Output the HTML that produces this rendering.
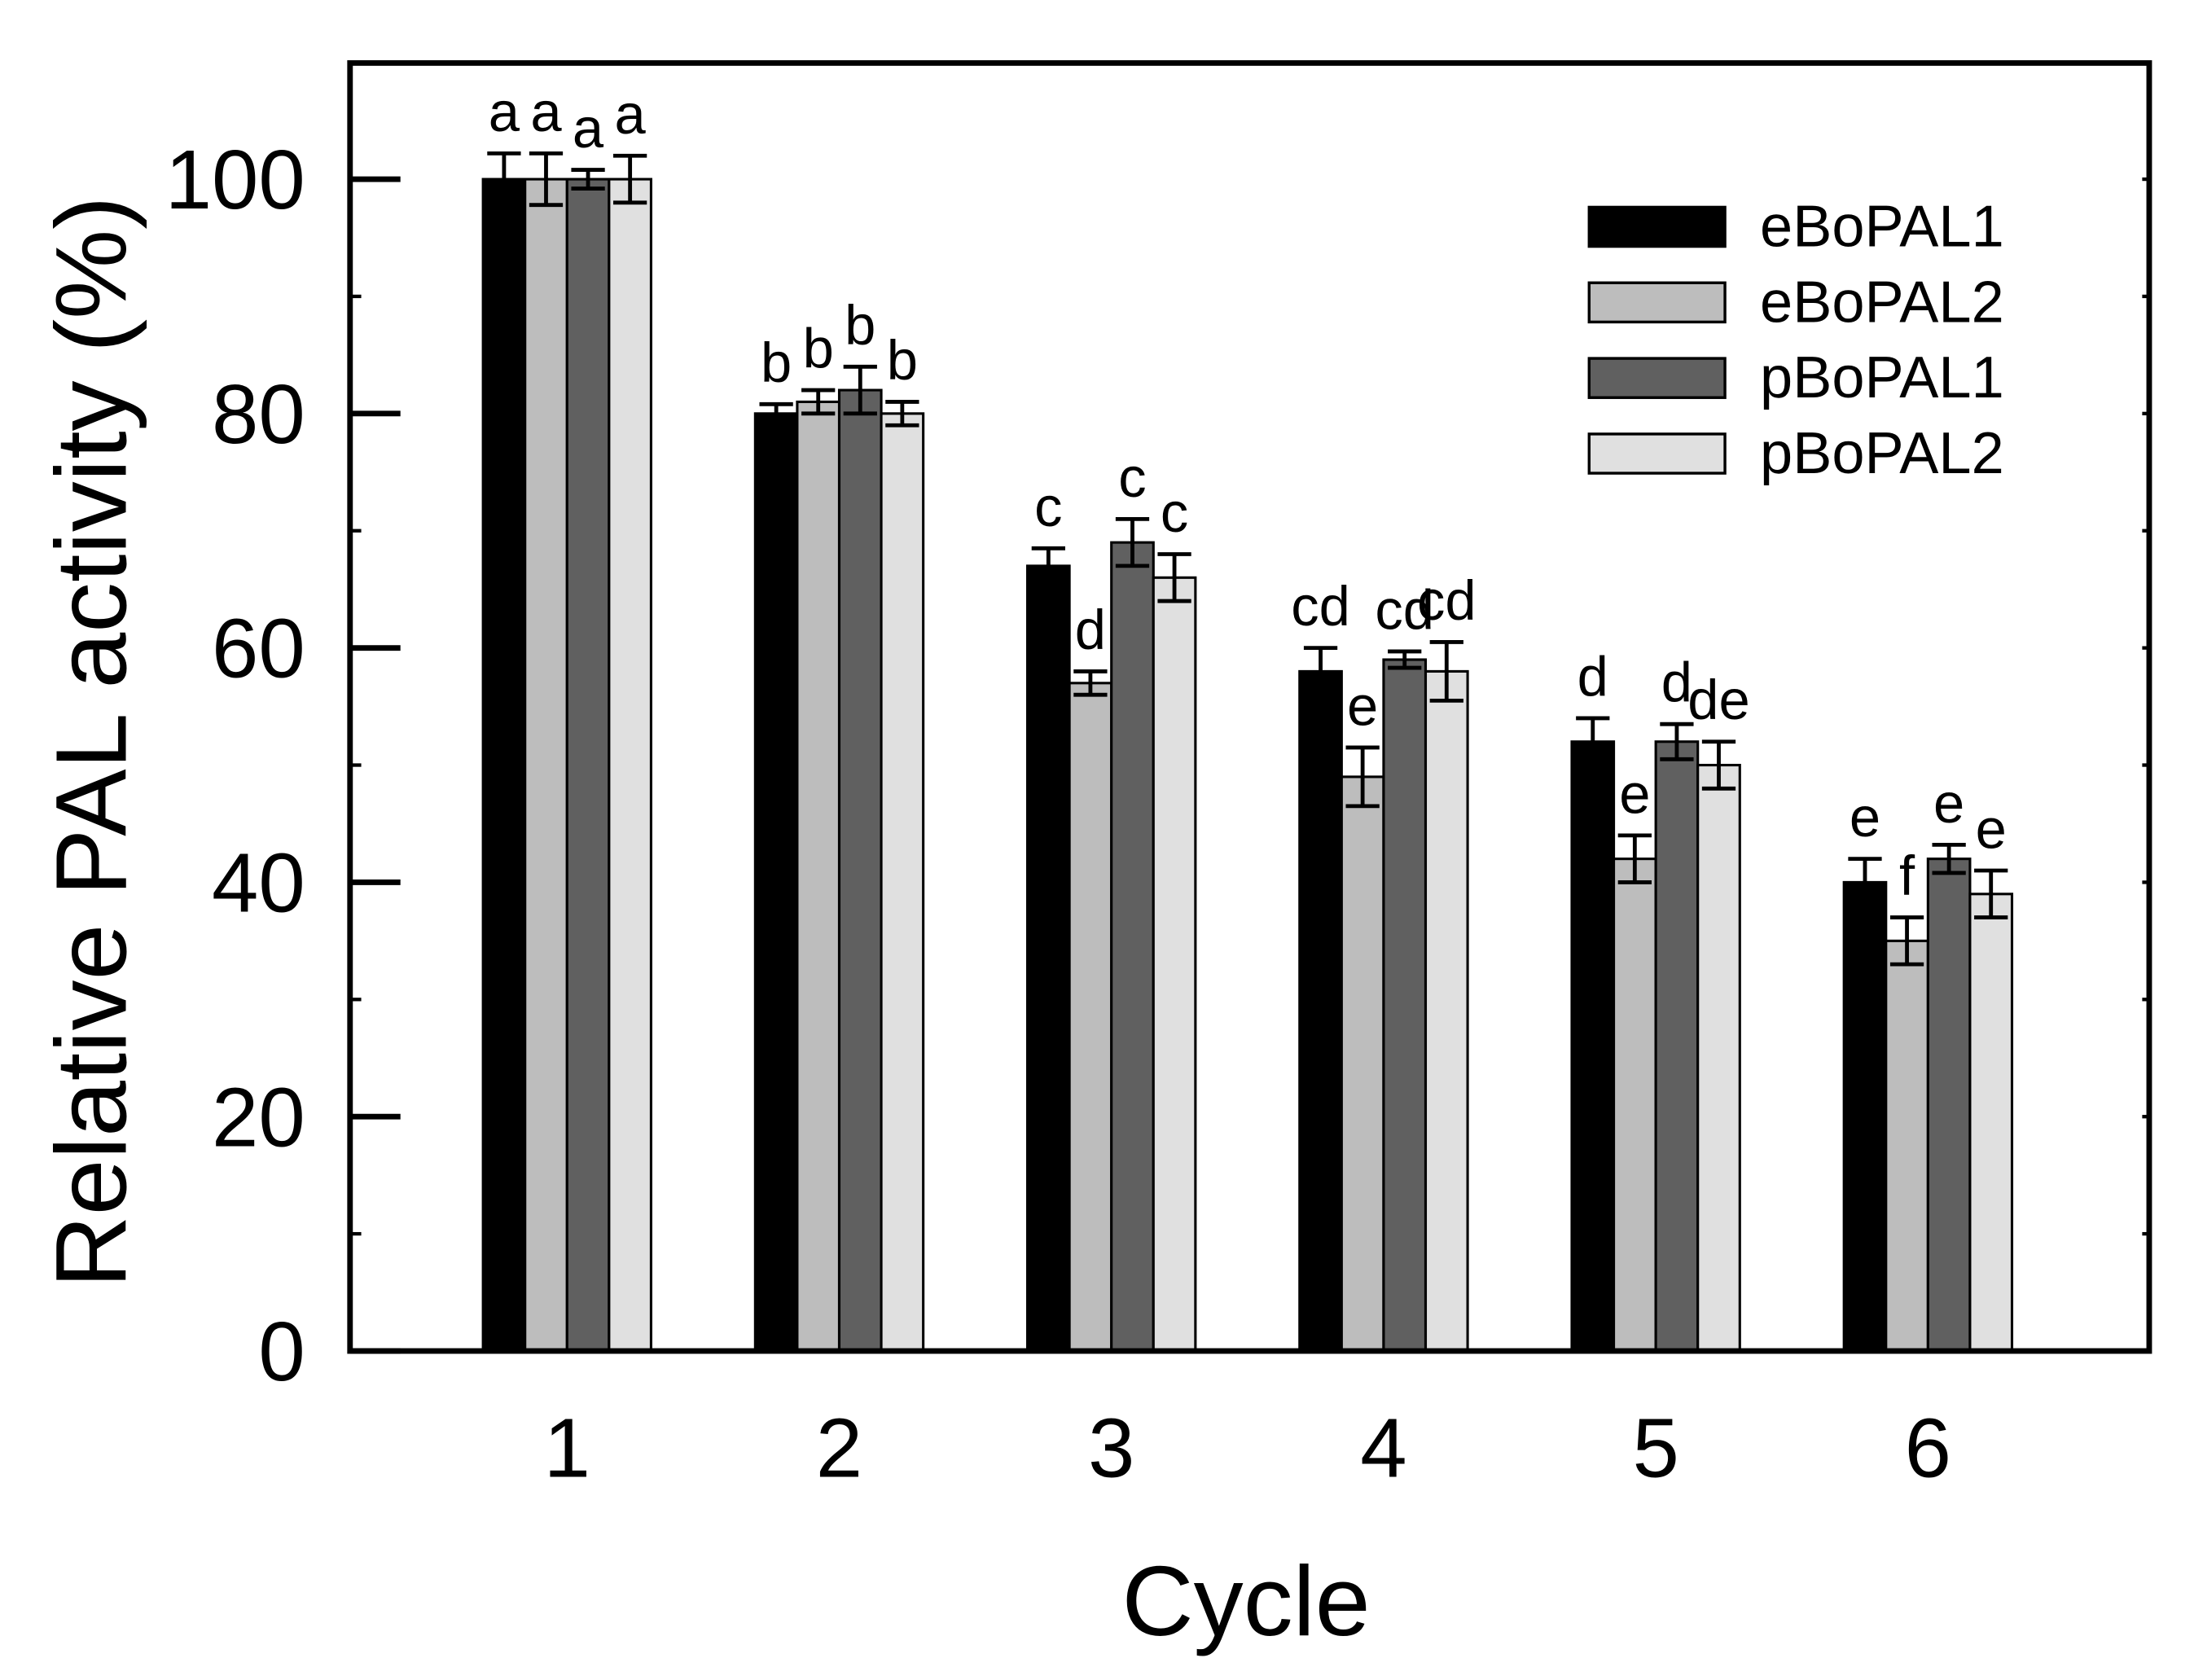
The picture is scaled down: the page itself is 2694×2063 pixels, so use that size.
<!DOCTYPE html>
<html><head><meta charset="utf-8"><style>
html,body{margin:0;padding:0;background:#fff;}
svg{display:block;font-family:"Liberation Sans",Arial,sans-serif;}
</style></head><body>
<svg id="chart" width="2694" height="2063" viewBox="0 0 1567 1200" preserveAspectRatio="none" xmlns="http://www.w3.org/2000/svg">
<rect x="0" y="0" width="1567" height="1200" fill="#fff"/>
<g id="bars"></g>
<g id="errs"></g>
<g id="letters"></g>
<g id="axes"></g>
<text x="890" y="1168" font-size="71" text-anchor="middle">Cycle</text>
<text transform="translate(90,530) rotate(-90)" font-size="72" text-anchor="middle">Relative PAL activity (%)</text>
<g id="legend"></g>
</svg>
<script>
const categories = ["1","2","3","4","5","6"];
const seriesNames = ["eBoPAL1","eBoPAL2","pBoPAL1","pBoPAL2"];
const eBoPAL1 = [100,80,67,58,52,40];
const eBoPAL2 = [100,81,57,49,42,35];
const pBoPAL1 = [100,82,69,59,52,42];
const pBoPAL2 = [100,80,66,58,50,39];
const err1 = [2.2,0.8,1.5,2,2,2];
const err2 = [2.2,1,1,2.5,2,2];
const err3 = [0.8,2,2,0.7,1.5,1.2];
const err4 = [2,1,2,2.5,2,2];
const let1 = ["a","b","c","cd","d","e"];
const let2 = ["a","b","d","e","e","f"];
const let3 = ["a","b","c","cd","d","e"];
const let4 = ["a","b","c","cd","de","e"];
const yTicks = [0,20,40,60,80,100];

const values=[eBoPAL1,eBoPAL2,pBoPAL1,pBoPAL2];
const errs=[err1,err2,err3,err4];
const lets=[let1,let2,let3,let4];
const colors=["#000000","#bdbdbd","#606060","#e0e0e0"];
const NS="http://www.w3.org/2000/svg";
const L=250,R=1535,T=45,B=965;
function y(v){return B-(v/100)*(B-128);}
function xc(i){return 405+i*194.4;}
const bw=30;
function mk(tag,attrs,parent){const e=document.createElementNS(NS,tag);for(const k in attrs)e.setAttribute(k,attrs[k]);parent.appendChild(e);return e;}
const gb=document.getElementById('bars'),ge=document.getElementById('errs'),gl=document.getElementById('letters'),ga=document.getElementById('axes'),gL=document.getElementById('legend');
categories.forEach((c,i)=>{
  for(let s=0;s<4;s++){
    const v=values[s][i],e=errs[s][i];
    const x0=xc(i)+(s-2)*bw;
    const r=mk('rect',{x:x0,y:y(v),width:bw,height:B-y(v),fill:colors[s],stroke:'#000','stroke-width':1.8},gb);
    
    
    const cx=x0+bw/2;
    const p=mk('path',{d:`M${cx},${y(v+e)}V${y(v-e)}M${cx-12},${y(v+e)}H${cx+12}M${cx-12},${y(v-e)}H${cx+12}`,stroke:'#000','stroke-width':2.8,fill:'none'},ge);
    
    
    const t=mk('text',{x:cx,y:y(v+e)-16,'font-size':40,'text-anchor':'middle'},gl);
    t.textContent=lets[s][i];
    
    
  }
  const xl=mk('text',{x:xc(i),y:1055,'font-size':60,'text-anchor':'middle'},ga);
  xl.textContent=c;
  
  
});
yTicks.forEach(v=>{
  const tk=mk('line',{x1:L,x2:L+36,y1:y(v),y2:y(v),stroke:'#000','stroke-width':4},ga);
  
  
  const tl=mk('text',{x:218,y:y(v)+21,'font-size':60,'text-anchor':'end'},ga);
  tl.textContent=v;
  
  
});
for(let v=10;v<=110;v+=10){
  if(v%20===0)continue;
  if(y(v)<T)continue;
  const m=mk('line',{x1:L,x2:L+8,y1:y(v),y2:y(v),stroke:'#000','stroke-width':2.5},ga);
  
  
}
for(let v=10;v<=110;v+=10){
  if(y(v)<T)continue;
  const m=mk('line',{x1:R-5,x2:R,y1:y(v),y2:y(v),stroke:'#000','stroke-width':2.5},ga);
  
  
}
const fr=mk('rect',{x:L,y:T,width:R-L,height:B-T,fill:'none',stroke:'#000','stroke-width':4},ga);


seriesNames.forEach((n,s)=>{
  const yy=148+s*54;
  const sw=mk('rect',{x:1135,y:yy,width:97,height:28,fill:colors[s],stroke:'#000','stroke-width':2},gL);
  
  
  const tx=mk('text',{x:1257,y:yy+28,'font-size':42},gL);
  tx.textContent=n;
  
  
});
</script>
</body></html>
